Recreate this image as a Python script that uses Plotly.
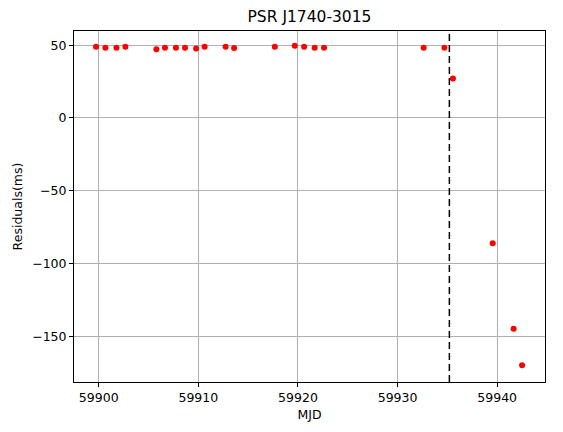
import plotly.graph_objects as go

# Data
mjd = [59899.73, 59900.67, 59901.78, 59902.68, 59905.79, 59906.65, 59907.75,
       59908.66, 59909.78, 59910.63, 59912.74, 59913.59, 59917.68, 59919.68,
       59920.62, 59921.68, 59922.62, 59932.62, 59934.70, 59935.56, 59939.55,
       59941.65, 59942.50]
residuals_ms = [48.9, 48.2, 48.2, 48.9, 47.2, 48.2, 48.2, 48.2, 47.7, 48.9,
                48.9, 48.1, 48.9, 49.6, 48.9, 48.2, 48.2, 48.2, 48.2, 27.1,
                -86.1, -144.9, -169.9]
glitch_mjd = 59935.2
x_ticks = [59900, 59910, 59920, 59930, 59940]
y_ticks = [-150, -100, -50, 0, 50]

font = "DejaVu Sans"

fig = go.Figure()
fig.add_trace(go.Scatter(
    x=mjd, y=residuals_ms, mode="markers",
    marker=dict(color="red", size=6, line=dict(width=0)),
    showlegend=False,
))
fig.add_shape(type="line", x0=glitch_mjd, x1=glitch_mjd, xref="x",
              y0=0, y1=1, yref="paper",
              line=dict(color="black", width=1.5, dash="7px,4px"))

fig.update_layout(
    width=563, height=432,
    margin=dict(l=66, r=26, t=23, b=58, autoexpand=False),
    paper_bgcolor="white", plot_bgcolor="white",
    font=dict(family=font, size=12.5, color="black"),
    title=dict(text="PSR J1740-3015", xref="paper", x=0.5, xanchor="center",
               y=0.979, yanchor="middle", font=dict(size=15.5, family=font, color="black")),
)
fig.update_xaxes(
    automargin=False,
    range=[59897.52, 59944.8], tickvals=x_ticks, ticktext=[str(v) for v in x_ticks],
    showgrid=True, gridcolor="#b0b0b0", gridwidth=1,
    showline=True, linecolor="black", linewidth=1, mirror=True,
    ticks="outside", ticklen=4, tickcolor="black", zeroline=False,
    title=dict(text="MJD", standoff=6, font=dict(size=12.5, family=font)),
)
fig.update_yaxes(
    automargin=False,
    range=[-181.5, 59.8], tickvals=y_ticks,
    showgrid=True, gridcolor="#b0b0b0", gridwidth=1,
    showline=True, linecolor="black", linewidth=1, mirror=True,
    ticks="outside", ticklen=4, tickcolor="black", zeroline=False,
    title=dict(text="Residuals(ms)", standoff=6, font=dict(size=12.5, family=font)),
)

fig.write_html("out.html")
